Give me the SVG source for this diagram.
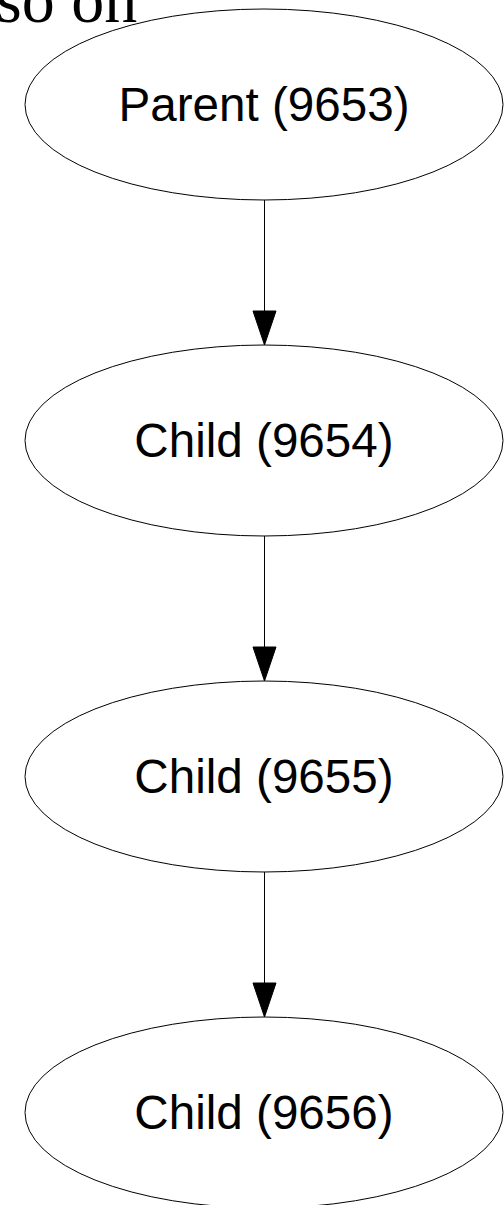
<svg xmlns="http://www.w3.org/2000/svg" width="504" height="1205" viewBox="0 0 504 1205">
  <style>
    .node ellipse { fill: none; stroke: #000; stroke-width: 1; }
    .node text { font-family: "Liberation Sans", Arial, sans-serif; font-size: 47.6px; text-anchor: middle; fill: #000; }
    .edge line { stroke: #000; stroke-width: 1; }
    .edge polygon { fill: #000; stroke: #000; stroke-width: 1; }
    .note { font-family: "Liberation Serif", "Times New Roman", serif; font-size: 66px; fill: #000; }
  </style>
  <rect width="504" height="1205" fill="#fff"/>

  <text class="note" x="-4" y="22">so on</text>

  <g id="connectors">
    <g class="edge" id="e_9653_9654">
      <line x1="264.5" y1="200" x2="264.5" y2="311"/>
      <polygon points="253,311 276,311 264.5,345"/>
    </g>
    <g class="edge" id="e_9654_9655">
      <line x1="264.5" y1="536" x2="264.5" y2="647"/>
      <polygon points="253,647 276,647 264.5,681"/>
    </g>
    <g class="edge" id="e_9655_9656">
      <line x1="264.5" y1="872" x2="264.5" y2="983"/>
      <polygon points="253,983 276,983 264.5,1017"/>
    </g>
  </g>

  <g class="node" id="n9653">
    <ellipse cx="264" cy="104.5" rx="239" ry="95.5"/>
    <text x="264" y="121">Parent (9653)</text>
  </g>
  <g class="node" id="n9654">
    <ellipse cx="264" cy="440.5" rx="239" ry="95.5"/>
    <text x="264" y="457">Child (9654)</text>
  </g>
  <g class="node" id="n9655">
    <ellipse cx="264" cy="776.5" rx="239" ry="95.5"/>
    <text x="264" y="793">Child (9655)</text>
  </g>
  <g class="node" id="n9656">
    <ellipse cx="264" cy="1112.5" rx="239" ry="95.5"/>
    <text x="264" y="1129">Child (9656)</text>
  </g>
</svg>
